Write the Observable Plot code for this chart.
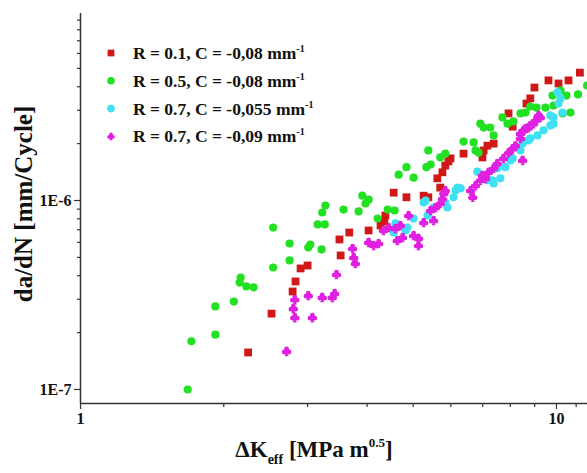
<!DOCTYPE html>
<html><head><meta charset="utf-8">
<script src="https://cdn.jsdelivr.net/npm/d3@7"></script>
<script src="https://cdn.jsdelivr.net/npm/@observablehq/plot@0.6"></script>
<style>body{margin:0;background:#fff}</style>
</head><body><div id="chart"></div>
<script>
// ---- data: [ΔK_eff (MPa m^0.5), da/dN (mm/cycle)] ----
const seriesR01 = [[2.25,1.57e-7],[2.52,2.52e-7],[2.79,3.30e-7],[2.83,3.73e-7],[2.90,4.37e-7],[3.00,4.53e-7],[3.50,6.22e-7],[3.52,5.12e-7],[3.67,6.77e-7],[4.03,6.94e-7],[4.27,7.38e-7],[4.35,7.74e-7],[4.37,8.33e-7],[4.55,1.10e-6],[4.84,1.04e-6],[5.26,1.06e-6],[5.38,1.04e-6],[5.70,1.17e-6],[5.62,1.31e-6],[5.76,1.41e-6],[5.84,1.53e-6],[5.93,1.61e-6],[5.99,1.67e-6],[6.38,1.77e-6],[6.99,1.69e-6],[7.03,1.84e-6],[7.16,1.95e-6],[7.38,2.00e-6],[7.93,2.89e-6],[8.09,2.46e-6],[8.65,3.26e-6],[8.81,3.47e-6],[8.99,3.96e-6],[9.62,4.32e-6],[10.1,4.16e-6],[10.6,4.32e-6],[11.2,4.75e-6]];
const seriesR05 = [[1.68,1.0e-7],[1.71,1.80e-7],[1.92,1.95e-7],[1.92,2.75e-7],[2.10,2.92e-7],[2.17,3.91e-7],[2.16,3.68e-7],[2.23,3.51e-7],[2.31,3.47e-7],[2.54,7.19e-7],[2.54,4.42e-7],[2.75,5.92e-7],[2.75,4.82e-7],[3.01,5.64e-7],[3.04,5.85e-7],[3.21,5.51e-7],[3.15,7.47e-7],[3.26,7.47e-7],[3.22,8.64e-7],[3.27,9.41e-7],[3.57,8.95e-7],[3.84,8.75e-7],[3.91,1.06e-6],[4.03,1.01e-6],[3.97,9.64e-7],[4.21,8.03e-7],[4.42,8.95e-7],[4.57,8.85e-7],[4.66,1.37e-6],[4.84,1.50e-6],[5.01,1.32e-6],[5.33,1.50e-6],[5.44,1.55e-6],[5.38,1.84e-6],[5.70,1.69e-6],[5.84,1.77e-6],[6.38,2.05e-6],[6.70,2.03e-6],[6.76,1.84e-6],[6.86,1.79e-6],[6.92,2.55e-6],[7.03,2.43e-6],[7.26,2.43e-6],[7.38,2.21e-6],[7.70,2.75e-6],[7.89,2.55e-6],[8.12,2.62e-6],[8.40,2.89e-6],[8.61,2.92e-6],[8.81,3.14e-6],[9.08,3.10e-6],[9.48,3.10e-6],[9.86,3.18e-6],[9.81,3.59e-6],[10.2,3.82e-6],[10.5,3.59e-6],[11.1,3.64e-6],[11.6,4.06e-6],[10.3,2.89e-6],[10.7,2.92e-6]];
const seriesR07a = [[4.55,6.77e-7],[4.59,7.56e-7],[4.82,6.94e-7],[4.86,7.19e-7],[5.01,8.03e-7],[5.26,9.76e-7],[5.31,1.0e-6],[5.36,8.33e-7],[5.52,9.18e-7],[5.84,9.76e-7],[5.90,9.18e-7],[6.08,1.04e-6],[6.14,1.13e-6],[6.20,1.17e-6],[6.29,1.16e-6],[6.82,1.42e-6],[7.16,1.28e-6],[7.34,1.28e-6],[7.38,1.23e-6],[7.51,1.48e-6],[7.62,1.31e-6],[7.81,1.50e-6],[8.00,1.63e-6],[8.09,1.67e-6],[8.40,1.84e-6],[8.49,2.00e-6],[8.73,2.08e-6],[8.81,2.13e-6],[9.12,2.21e-6],[9.39,2.35e-6],[9.71,2.49e-6],[9.71,2.82e-6],[9.86,2.55e-6],[9.86,2.75e-6],[10.1,3.26e-6],[10.2,3.47e-6],[10.05,3.73e-6],[10.3,2.92e-6]];
const seriesR07b = [[2.71,1.59e-7],[2.82,2.40e-7],[2.80,2.68e-7],[2.82,2.99e-7],[3.07,2.40e-7],[3.01,3.14e-7],[3.22,3.07e-7],[3.38,3.07e-7],[3.42,3.22e-7],[3.45,4.06e-7],[3.73,5.57e-7],[3.75,4.99e-7],[3.78,4.64e-7],[4.03,6.00e-7],[4.13,5.78e-7],[4.23,5.92e-7],[4.33,6.94e-7],[4.44,7.19e-7],[4.59,7.11e-7],[4.70,7.38e-7],[4.63,6.14e-7],[4.75,6.37e-7],[4.89,8.33e-7],[5.01,6.53e-7],[5.13,6.30e-7],[5.13,5.78e-7],[5.26,7.65e-7],[5.52,7.84e-7],[5.44,8.85e-7],[5.57,9.18e-7],[5.70,9.64e-7],[5.76,1.02e-6],[5.80,1.09e-6],[5.84,1.13e-6],[6.60,1.13e-6],[6.67,1.04e-6],[6.76,1.20e-6],[6.92,1.28e-6],[6.99,1.36e-6],[7.09,1.31e-6],[7.20,1.41e-6],[7.38,1.48e-6],[7.51,1.57e-6],[7.74,1.67e-6],[7.93,1.79e-6],[8.09,1.88e-6],[8.20,1.95e-6],[8.49,1.63e-6],[8.40,2.26e-6],[8.53,2.35e-6],[8.61,2.40e-6],[8.73,2.43e-6],[8.81,2.49e-6],[8.95,2.55e-6],[9.03,2.65e-6],[9.17,2.82e-6],[9.25,2.75e-6],[8.40,2.13e-6]];

const seriesLabels = ["R = 0.1, C = -0,08 mm", "R = 0.5, C = -0,08 mm", "R = 0.7, C = -0,055 mm", "R = 0.7, C = -0,09 mm"];
const unitExponent = "-1";
const xMajorTicks = [1, 10];
const xTickLabels = ["1", "10"];
const xMinorTicks = [2, 3, 4, 5, 6, 7, 8, 9, 11];
const yMajorTicks = [1e-7, 1e-6];
const yTickLabels = ["1E-7", "1E-6"];
const yMinorTicks = [2e-7,3e-7,4e-7,5e-7,6e-7,7e-7,8e-7,9e-7,2e-6,3e-6,4e-6,5e-6,6e-6,7e-6,8e-6,9e-6];
const xDomain = [1, 11.62];
const yDomain = [8.43e-8, 9.76e-6];

// ---- styles ----
const FONT = "'Liberation Serif', 'Times New Roman', serif";
const AXIS = "#333";
const colors = ["#d01818", "#22e022", "#3ee0f2", "#e020e0"];

const club = {
  draw(ctx, size) {
    const r = Math.sqrt(size / Math.PI);
    const c = r * 0.5;
    const pts = [[0, -0.5 * r], [-0.5 * r, 0.12 * r], [0.5 * r, 0.12 * r]];
    for (const [x, y] of pts) { ctx.moveTo(x + c, y); ctx.arc(x, y, c, 0, 2 * Math.PI); }
    ctx.moveTo(0, 0); ctx.lineTo(0.42 * r, r); ctx.lineTo(-0.42 * r, r); ctx.closePath();
  }
};
const symbols = ["square", "circle", "circle", club];
const radii = [4.4, 4.1, 4.1, 4.8];
const allSeries = [seriesR01, seriesR05, seriesR07a, seriesR07b];

const chart = Plot.plot({
  width: 587, height: 473,
  marginLeft: 80, marginRight: 0, marginTop: 13, marginBottom: 70,
  style: {fontFamily: FONT, fontWeight: "bold", background: "#fff", overflow: "hidden"},
  x: {type: "log", domain: xDomain, axis: null},
  y: {type: "log", domain: yDomain, axis: null},
  marks: [
    ...allSeries.map((s, i) => Plot.dot(s, {x: d => d[0], y: d => d[1], symbol: symbols[i], r: radii[i], fill: colors[i], stroke: "none"})),
    Plot.ruleX([xDomain[0]], {stroke: AXIS, strokeWidth: 1.5}),
    Plot.ruleY([yDomain[0]], {stroke: AXIS, strokeWidth: 1.5}),
    Plot.axisX({ticks: xMinorTicks, tickSize: 4, tickFormat: () => "", stroke: AXIS, strokeWidth: 1.2, label: null}),
    Plot.axisX({ticks: xMajorTicks, tickSize: 6, tickPadding: 3, tickFormat: d => xTickLabels[xMajorTicks.indexOf(d)], fontSize: 16, stroke: AXIS, strokeWidth: 1.2, label: null, fill: "#111"}),
    Plot.axisY({ticks: yMinorTicks, tickSize: 3, tickFormat: () => "", stroke: AXIS, strokeWidth: 1.2, label: null}),
    Plot.axisY({ticks: yMajorTicks, tickSize: 6, tickPadding: 3, tickFormat: d => yTickLabels[yMajorTicks.indexOf(d)], fontSize: 16, stroke: AXIS, strokeWidth: 1.2, label: null, fill: "#111"})
  ]
});
document.getElementById("chart").appendChild(chart);

const svg = d3.select(chart);
// legend
const lg = svg.append("g").attr("font-family", FONT).attr("font-weight", "bold").attr("fill", "#111").attr("text-anchor", "start");
seriesLabels.forEach((lab, i) => {
  const cy = 53 + i * 27.8;
  lg.append("path")
    .attr("d", d3.symbol(typeof symbols[i] === "string" ? (symbols[i] === "square" ? d3.symbolSquare : d3.symbolCircle) : symbols[i], Math.PI * 3.8 * 3.8)())
    .attr("transform", `translate(111,${cy})`).attr("fill", colors[i]);
  const t = lg.append("text").attr("x", 133).attr("y", cy + 6).attr("font-size", 17.5).attr("text-anchor", "start");
  t.append("tspan").text(lab);
  t.append("tspan").attr("dy", -7).attr("font-size", 10).text(unitExponent);
});
// x title
const xt = svg.append("text").attr("x", 314).attr("y", 457).attr("text-anchor", "middle")
  .attr("font-family", FONT).attr("font-weight", "bold").attr("font-size", 23).attr("fill", "#111");
xt.append("tspan").text("ΔK");
xt.append("tspan").attr("dy", 7).attr("font-size", 14).text("eff");
xt.append("tspan").attr("dy", -7).text(" [MPa m");
xt.append("tspan").attr("dy", -10).attr("font-size", 13).text("0.5");
xt.append("tspan").attr("dy", 10).text("]");
// y title
svg.append("text").attr("transform", "translate(32,204) rotate(-90)").attr("text-anchor", "middle")
  .attr("font-family", FONT).attr("font-weight", "bold").attr("font-size", 25).attr("fill", "#111")
  .text("da/dN [mm/Cycle]");
</script>
</body></html>
